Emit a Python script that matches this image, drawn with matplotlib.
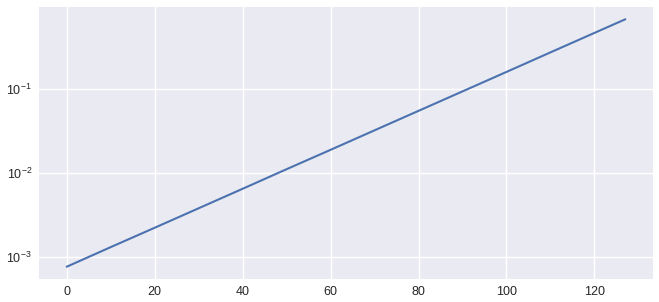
import matplotlib
matplotlib.use("Agg")
import matplotlib.pyplot as plt

# values (log-scale y)
steps = [0, 10, 20, 30, 40, 50, 60, 70, 80, 90, 100, 110, 120, 127]
values = [7.60e-4, 1.30e-3, 2.21e-3, 3.77e-3, 6.43e-3, 1.10e-2, 1.87e-2,
          3.19e-2, 5.44e-2, 9.27e-2, 0.158, 0.270, 0.460, 0.668]

plt.rcParams.update({
    "font.family": ["Liberation Sans", "DejaVu Sans"],
    "axes.facecolor": "#EAEAF2",
    "axes.edgecolor": "white",
    "grid.color": "white",
    "axes.grid": True,
    "xtick.color": ".15",
    "ytick.color": ".15",
    "xtick.major.size": 0,
    "ytick.major.size": 0,
    "xtick.minor.size": 0,
    "ytick.minor.size": 0,
})

fig = plt.figure(figsize=(6.59, 3.02), dpi=100)
ax = fig.add_axes([39 / 659, 1 - 279 / 302, (653 - 39) / 659, (279 - 7) / 302])
ax.plot(steps, values, color="#4C72B0", linewidth=1.5)
ax.set_yscale("log")
ax.grid(True, which="major", color="white", linewidth=1.0)
ax.grid(False, which="minor")
for s in ax.spines.values():
    s.set_visible(False)
ax.tick_params(axis="both", labelsize=9, pad=5)
ax.tick_params(which="minor", length=0)
ax.set_axisbelow(True)
fig.savefig("out.png", dpi=100)
